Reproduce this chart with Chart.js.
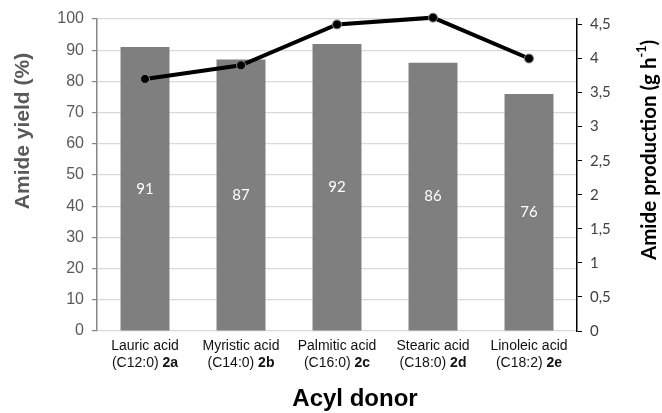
<!DOCTYPE html>
<html>
<head>
<meta charset="utf-8">
<script src="https://cdn.jsdelivr.net/npm/chart.js@4"></script>
<style>
  body { margin: 0; background: #fff; }
</style>
</head>
<body>
<canvas id="acylChart" width="662" height="413"></canvas>
<script>
var categories = ['Lauric acid', 'Myristic acid', 'Palmitic acid', 'Stearic acid', 'Linoleic acid'];
var formulas = ['(C12:0)', '(C14:0)', '(C16:0)', '(C18:0)', '(C18:2)'];
var compounds = ['2a', '2b', '2c', '2d', '2e'];
var yieldValues = [91, 87, 92, 86, 76];
var productionValues = [3.7, 3.9, 4.5, 4.6, 4.0];
var productionTicks = [0, 0.5, 1, 1.5, 2, 2.5, 3, 3.5, 4, 4.5];

// text drawn by hand: value labels, two-line category labels with bold part, axis titles
var textPlugin = {
    id: 'textPlugin',
    afterDatasetsDraw: function(chart) {
        var ctx = chart.ctx;
        var meta = chart.getDatasetMeta(1);
        ctx.save();
        ctx.fillStyle = '#ffffff';
        ctx.font = '15px Lato';
        ctx.textAlign = 'center';
        ctx.textBaseline = 'middle';
        meta.data.forEach(function(bar, i) {
            var mid = (bar.y + bar.base) / 2;
            ctx.fillText(String(yieldValues[i]), bar.x, mid);
        });
        ctx.restore();
    },
    afterDraw: function(chart) {
        var ctx = chart.ctx;
        var xs = chart.scales.x;
        var area = chart.chartArea;
        ctx.save();
        ctx.textBaseline = 'middle';
        ctx.fillStyle = '#111';
        for (var i = 0; i < categories.length; i++) {
            var x = xs.getPixelForValue(i);
            ctx.font = '14px "Liberation Sans"';
            ctx.textAlign = 'center';
            ctx.fillText(categories[i], x, area.bottom + 15);
            var part1 = formulas[i] + ' ';
            var w1 = ctx.measureText(part1).width;
            ctx.font = 'bold 14px "Liberation Sans"';
            var w2 = ctx.measureText(compounds[i]).width;
            var start = x - (w1 + w2) / 2;
            ctx.textAlign = 'left';
            ctx.font = '14px "Liberation Sans"';
            ctx.fillText(part1, start, area.bottom + 32);
            ctx.font = 'bold 14px "Liberation Sans"';
            ctx.fillText(compounds[i], start + w1, area.bottom + 32);
        }

        // x title
        ctx.fillStyle = '#000';
        ctx.textAlign = 'center';
        ctx.font = 'bold 24px "Liberation Sans"';
        ctx.fillText('Acyl donor', 355, 399);

        // left title
        ctx.save();
        ctx.translate(23, 131);
        ctx.rotate(-Math.PI / 2);
        ctx.fillStyle = '#595959';
        ctx.font = 'bold 21px "Liberation Sans"';
        ctx.fillText('Amide yield (%)', 0, 0);
        ctx.restore();

        // right title with superscript
        ctx.save();
        ctx.translate(649, 150);
        ctx.rotate(-Math.PI / 2);
        ctx.fillStyle = '#000';
        ctx.textAlign = 'left';
        var big = 'bold 20.5px Lato';
        var small = 'bold 12.5px Lato';
        ctx.font = big;
        var a = 'Amide production (g h';
        var wa = ctx.measureText(a).width;
        var wc = ctx.measureText(')').width;
        ctx.font = small;
        var wb = ctx.measureText('-1').width;
        var s = -(wa + wb + wc) / 2;
        ctx.font = big;
        ctx.fillText(a, s, 0);
        ctx.font = small;
        ctx.fillText('-1', s + wa, -7);
        ctx.font = big;
        ctx.fillText(')', s + wa + wb, 0);
        ctx.restore();
        ctx.restore();
    }
};

var el_acylChart = document.getElementById('acylChart').getContext('2d');

var acylChart = new Chart(el_acylChart, {
    type: 'bar',
    data: {
        labels: categories,
        datasets: [{
            type: 'line',
            label: 'Amide production',
            data: productionValues,
            yAxisID: 'y1',
            borderColor: '#000000',
            borderWidth: 4,
            pointRadius: 4.5,
            pointBackgroundColor: '#000000',
            pointBorderColor: '#8a8a8a',
            pointBorderWidth: 1,
            tension: 0,
            clip: false,
            order: 0
        }, {
            type: 'bar',
            label: 'Amide yield',
            data: yieldValues,
            yAxisID: 'y',
            backgroundColor: '#7f7f7f',
            categoryPercentage: 1.0,
            barPercentage: 0.51,
            order: 1
        }]
    },
    options: {
        responsive: false,
        animation: false,
        layout: { padding: { top: 19, left: 0, right: 0, bottom: 0 } },
        plugins: {
            legend: { display: false },
            tooltip: { enabled: false }
        },
        scales: {
            x: {
                grid: { display: false },
                border: { display: false },
                ticks: { display: false },
                afterFit: function(scale) { scale.height = 82; }
            },
            y: {
                position: 'left',
                min: 0,
                max: 100,
                ticks: {
                    stepSize: 10,
                    color: '#595959',
                    font: { family: '"Liberation Sans"', size: 16 },
                    padding: 8
                },
                grid: {
                    color: '#d9d9d9',
                    tickColor: '#868686',
                    tickLength: 5,
                    lineWidth: 1.2
                },
                border: { color: '#868686', width: 1.5 },
                afterFit: function(scale) { scale.width = 97; }
            },
            y1: {
                position: 'right',
                min: 0,
                max: 4.58,
                ticks: {
                    color: '#404040',
                    font: { family: 'Lato', size: 15 },
                    padding: 8,
                    callback: function(v) { return String(v).replace('.', ','); }
                },
                afterBuildTicks: function(scale) {
                    scale.ticks = productionTicks.map(function(v) { return { value: v }; });
                },
                grid: {
                    drawOnChartArea: false,
                    tickColor: '#000000',
                    tickLength: 5
                },
                border: { color: '#000000', width: 1.5 },
                afterFit: function(scale) { scale.width = 85; }
            }
        }
    },
    plugins: [textPlugin]
});
</script>
</body>
</html>
